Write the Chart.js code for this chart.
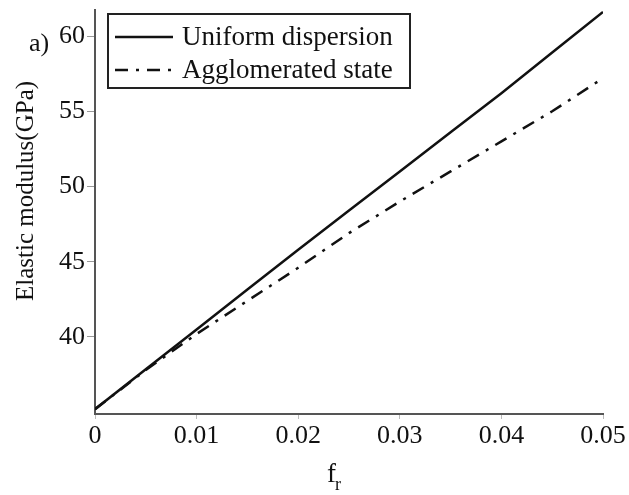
<!DOCTYPE html>
<html>
<head>
<meta charset="utf-8">
<script src="https://cdn.jsdelivr.net/npm/chart.js@4.4.0/dist/chart.umd.min.js"></script>
<style>
  html, body { margin: 0; padding: 0; background: #fff; }
  #wrap { width: 629px; height: 495px; }
</style>
</head>
<body>
<div id="wrap"><canvas id="chart" width="629" height="495"></canvas></div>
<script>
// volume fraction f_r
const fr = [0, 0.005, 0.01, 0.015, 0.02, 0.025, 0.03, 0.035, 0.04, 0.045, 0.05];
// elastic modulus (GPa)
const uniform = [35.2, 37.85, 40.5, 43.15, 45.8, 48.4, 51.0, 53.6, 56.2, 58.9, 61.6];
const agglomerated = [35.2, 37.8, 40.2, 42.4, 44.6, 46.9, 49.0, 51.0, 53.0, 55.0, 57.2];

const seriesNames = ["Uniform dispersion", "Agglomerated state"];
const xTicks = [0, 0.01, 0.02, 0.03, 0.04, 0.05];
const yTicks = [40, 45, 50, 55, 60];

const serif = "'Liberation Serif', 'DejaVu Serif', serif";
const ink = "#111";

function toPoints(ys) {
    return fr.map((x, i) => ({ x: x, y: ys[i] }));
}

// titres, label "a)" et légende encadrée
const extras = {
    id: "extras",
    afterDraw(chart) {
        const c = chart.ctx;
        c.save();
        c.fillStyle = ink;

        // "a)"
        c.font = "26px " + serif;
        c.textAlign = "left";
        c.textBaseline = "alphabetic";
        c.fillText("a)", 29, 51);

        // titre axe x : f avec indice r
        c.font = "27px " + serif;
        c.fillText("f", 327, 482);
        c.font = "18px " + serif;
        c.fillText("r", 335, 490);

        // titre axe y
        c.save();
        c.translate(33, 191);
        c.rotate(-Math.PI / 2);
        c.font = "25px " + serif;
        c.textAlign = "center";
        c.fillText("Elastic modulus(GPa)", 0, 0);
        c.restore();

        // légende
        c.strokeStyle = "#222";
        c.lineWidth = 2;
        c.strokeRect(108, 14, 302, 74);
        const rows = [37, 70];
        chart.data.datasets.forEach((ds, i) => {
            c.beginPath();
            c.setLineDash(ds.borderDash || []);
            c.lineWidth = ds.borderWidth;
            c.strokeStyle = ds.borderColor;
            c.moveTo(115, rows[i]);
            c.lineTo(173, rows[i]);
            c.stroke();
            c.setLineDash([]);
            c.font = "27px " + serif;
            c.textBaseline = "middle";
            c.fillText(ds.label, 182, rows[i] + 1);
        });
        c.restore();
    }
};

const ctx = document.getElementById("chart").getContext("2d");
const chart = new Chart(ctx, {
    type: "scatter",
    data: {
        datasets: [{
            label: seriesNames[0],
            data: toPoints(uniform),
            showLine: true,
            borderColor: ink,
            borderWidth: 2.5,
            pointRadius: 0,
            tension: 0
        }, {
            label: seriesNames[1],
            data: toPoints(agglomerated),
            showLine: true,
            borderColor: ink,
            borderWidth: 2.5,
            borderDash: [13, 8, 3, 8],
            pointRadius: 0,
            tension: 0
        }]
    },
    options: {
        responsive: false,
        animation: false,
        layout: { padding: { left: 0, right: 26, top: 10, bottom: 0 } },
        plugins: {
            legend: { display: false },
            tooltip: { enabled: false }
        },
        scales: {
            x: {
                type: "linear",
                min: 0,
                max: 0.05,
                afterBuildTicks(axis) {
                    axis.ticks = xTicks.map(v => ({ value: v }));
                },
                afterFit(axis) {
                    axis.height = 81;
                    axis.paddingLeft = 0;
                    axis.paddingRight = 0;
                },
                ticks: {
                    color: ink,
                    font: { family: serif, size: 26 },
                    padding: 2,
                    maxRotation: 0,
                    callback: v => String(v)
                },
                grid: { drawOnChartArea: false, tickLength: 5, color: "#bbb" },
                border: { color: "#555", width: 2 }
            },
            y: {
                type: "linear",
                min: 34.88,
                max: 61.73,
                afterBuildTicks(axis) {
                    axis.ticks = yTicks.map(v => ({ value: v }));
                },
                afterFit(axis) {
                    axis.width = 95;
                    axis.paddingTop = 0;
                    axis.paddingBottom = 0;
                },
                ticks: {
                    color: ink,
                    font: { family: serif, size: 26 },
                    padding: 2
                },
                grid: { drawOnChartArea: false, tickLength: 8, color: "#999" },
                border: { color: "#555", width: 2 }
            }
        }
    },
    plugins: [extras]
});
</script>
</body>
</html>
